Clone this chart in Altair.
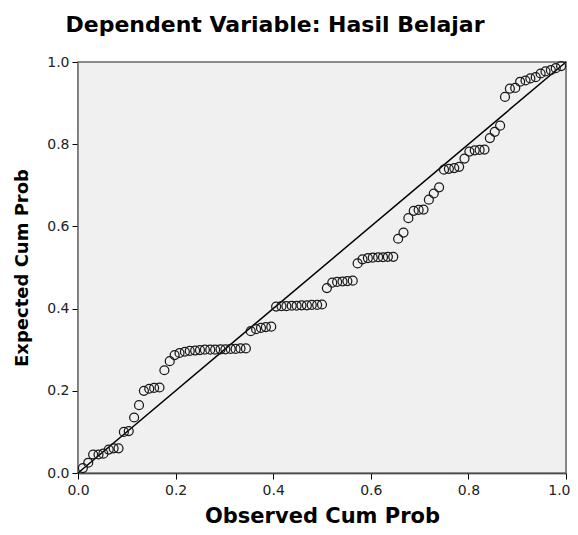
import altair as alt
import pandas as pd

observed = [0.010, 0.021, 0.031, 0.042, 0.052, 0.063, 0.073, 0.083, 0.094, 0.104,
            0.115, 0.125, 0.135, 0.146, 0.156, 0.167, 0.177, 0.188, 0.198, 0.208,
            0.219, 0.229, 0.240, 0.250, 0.260, 0.271, 0.281, 0.292, 0.302, 0.313,
            0.323, 0.333, 0.344, 0.354, 0.365, 0.375, 0.385, 0.396, 0.406, 0.417,
            0.427, 0.438, 0.448, 0.458, 0.469, 0.479, 0.490, 0.500, 0.510, 0.521,
            0.531, 0.542, 0.552, 0.563, 0.573, 0.583, 0.594, 0.604, 0.615, 0.625,
            0.635, 0.646, 0.656, 0.667, 0.677, 0.688, 0.698, 0.708, 0.719, 0.729,
            0.740, 0.750, 0.760, 0.771, 0.781, 0.792, 0.802, 0.813, 0.823, 0.833,
            0.844, 0.854, 0.865, 0.875, 0.885, 0.896, 0.906, 0.917, 0.927, 0.938,
            0.948, 0.958, 0.969, 0.979, 0.990]

expected = [0.012, 0.025,
            0.045, 0.045, 0.047,
            0.057, 0.060, 0.060,
            0.100, 0.102,
            0.135, 0.165,
            0.200, 0.205, 0.207, 0.208,
            0.250, 0.272,
            0.287, 0.292, 0.295, 0.297, 0.298, 0.299, 0.300, 0.300, 0.300, 0.301,
            0.301, 0.302, 0.302, 0.303, 0.303,
            0.345, 0.350, 0.353, 0.355, 0.356,
            0.405, 0.406, 0.406, 0.407, 0.407, 0.408, 0.408, 0.409, 0.409, 0.410,
            0.450,
            0.463, 0.465, 0.466, 0.467, 0.468,
            0.510,
            0.520, 0.523, 0.524, 0.525, 0.525, 0.526, 0.526,
            0.570, 0.585,
            0.620, 0.638, 0.640, 0.641,
            0.665, 0.680, 0.695,
            0.738, 0.740, 0.742, 0.745,
            0.765, 0.782, 0.785, 0.786, 0.787,
            0.815, 0.830, 0.845,
            0.915, 0.935, 0.937,
            0.952, 0.955, 0.960, 0.963,
            0.972, 0.977, 0.980, 0.985, 0.990]

ref_x = [0.0, 1.0]
ref_y = [0.0, 1.0]
ticks = [0.0, 0.2, 0.4, 0.6, 0.8, 1.0]

pts = pd.DataFrame({"obs": observed, "exp": expected})
ref = pd.DataFrame({"obs": ref_x, "exp": ref_y})
frame = pd.DataFrame({"x0": [0.0], "x1": [1.0], "y0": [0.0], "y1": [1.0]})

xscale = alt.Scale(domain=[0, 1], nice=False, zero=False)
yscale = alt.Scale(domain=[0, 1], nice=False, zero=False)

xaxis = alt.Axis(title="Observed Cum Prob", values=ticks, format=".1f", grid=False,
                 domainColor="black", domainWidth=1.5, tickColor="black", tickSize=6,
                 labelFont="DejaVu Sans", labelFontSize=14, labelColor="#222",
                 labelPadding=4, labelFlush=False,
                 labelAlign={"condition": {"test": "datum.value >= 1", "value": "right"},
                             "value": "center"},
                 labelOffset={"condition": {"test": "datum.value >= 1", "value": 4},
                              "value": 0},
                 titleFont="DejaVu Sans", titleFontSize=21,
                 titleFontWeight="bold", titleColor="black", titlePadding=8)
yaxis = alt.Axis(title="Expected Cum Prob", values=ticks, format=".1f", grid=False,
                 domainColor="black", domainWidth=1.5, tickColor="black", tickSize=6,
                 labelFont="DejaVu Sans", labelFontSize=14, labelColor="#222",
                 labelPadding=3, labelFlush=False,
                 titleFont="DejaVu Sans", titleFontSize=18,
                 titleFontWeight="bold", titleColor="black", titlePadding=15)

bg = alt.Chart(frame).mark_rect(fill="#F0F0F0", stroke="#666", strokeWidth=1.5).encode(
    x=alt.X("x0:Q", scale=xscale, axis=xaxis),
    x2="x1:Q",
    y=alt.Y("y0:Q", scale=yscale, axis=yaxis),
    y2="y1:Q",
)

line = alt.Chart(ref).mark_line(color="black", strokeWidth=1.5).encode(
    x=alt.X("obs:Q", scale=xscale),
    y=alt.Y("exp:Q", scale=yscale),
)

points = alt.Chart(pts).mark_point(shape="circle", filled=False, color="#1a1a1a",
                                   size=80, strokeWidth=1.25, opacity=1).encode(
    x=alt.X("obs:Q", scale=xscale),
    y=alt.Y("exp:Q", scale=yscale),
)

chart = (bg + line + points).properties(
    width=488, height=411,
    title=alt.TitleParams("Dependent Variable: Hasil Belajar", font="DejaVu Sans",
                          fontSize=22, fontWeight="bold", color="black",
                          anchor="middle", dx=-47, offset=18),
    autosize=alt.AutoSizeParams(type="none"),
    padding={"left": 70, "top": 54, "right": 4, "bottom": 54},
).configure_view(stroke=None).configure(background="white")

chart.save("out.html", embed_options={"renderer": "svg", "actions": False})
